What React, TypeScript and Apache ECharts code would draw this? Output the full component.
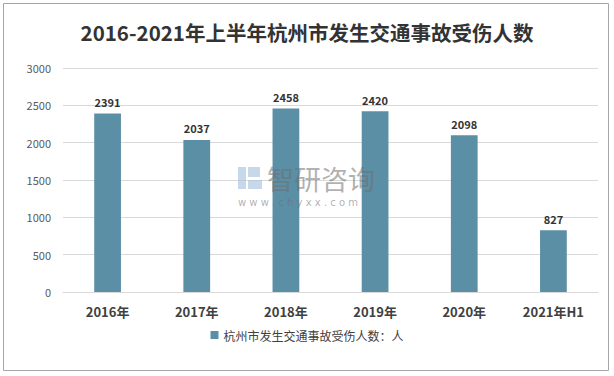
import React, { useEffect, useRef } from "react";
import * as echarts from "echarts";

const categories = ["2016年", "2017年", "2018年", "2019年", "2020年", "2021年H1"];
const injured = [2391, 2037, 2458, 2420, 2098, 827];
const seriesName = "杭州市发生交通事故受伤人数：人";
const titleText = "2016-2021年上半年杭州市发生交通事故受伤人数";

export default function App() {
  const ref = useRef<HTMLDivElement>(null);
  useEffect(() => {
    document.body.style.margin = "0";
    const chart = echarts.init(ref.current!, undefined, { renderer: "svg" });
    const font = "'Noto Sans CJK SC', 'Noto Sans', sans-serif";
    const wm = "rgba(110,110,110,0.55)";
    const logo = "rgba(170,195,225,0.65)";
    chart.setOption({
      animation: false,
      backgroundColor: "#ffffff",
      textStyle: { fontFamily: font },
      title: {
        text: titleText,
        left: "center",
        top: 17,
        textStyle: { fontSize: 20.5, fontWeight: "bold", color: "#333333", fontFamily: font },
      },
      grid: { left: 63, right: 16, top: 68, bottom: 84 },
      legend: {
        bottom: 30,
        left: "center",
        itemWidth: 8,
        itemHeight: 8,
        icon: "rect",
        itemGap: 4,
        textStyle: { fontSize: 12, color: "#404040", fontFamily: font },
        data: [seriesName],
      },
      xAxis: {
        type: "category",
        data: categories,
        axisLine: { lineStyle: { color: "#d9d9d9" } },
        axisTick: { show: false },
        axisLabel: { fontSize: 13, fontWeight: "bold", color: "#404040", margin: 13 },
      },
      yAxis: {
        type: "value",
        min: 0,
        max: 3000,
        interval: 500,
        axisLine: { show: false },
        axisTick: { show: false },
        axisLabel: { fontSize: 11, color: "#595959", margin: 12, formatter: (v: number) => String(v) },
        splitLine: { lineStyle: { color: "#d9d9d9" } },
      },
      series: [
        {
          name: seriesName,
          type: "bar",
          data: injured,
          barWidth: "30%",
          itemStyle: { color: "#5b8fa6" },
          label: {
            show: true,
            position: "top",
            distance: 6,
            fontSize: 11,
            fontWeight: "bold",
            color: "#333333",
          },
        },
      ],
      graphic: [
        {
          type: "rect",
          shape: { x: 3.5, y: 3.5, width: 605, height: 367 },
          style: { fill: "none", stroke: "#a6a6a6", lineWidth: 1 },
          silent: true,
        },
        { type: "rect", z: 100, silent: true, shape: { x: 238, y: 167, width: 8, height: 22 }, style: { fill: logo } },
        { type: "rect", z: 100, silent: true, shape: { x: 248, y: 167, width: 12, height: 10 }, style: { fill: logo } },
        { type: "rect", z: 100, silent: true, shape: { x: 248, y: 180, width: 14, height: 9 }, style: { fill: logo } },
        {
          type: "text",
          z: 100,
          silent: true,
          x: 267,
          y: 165,
          style: { text: "智研咨询", fontSize: 27, fill: wm, fontFamily: font },
        },
        {
          type: "text",
          z: 100,
          silent: true,
          x: 238,
          y: 197,
          style: { text: "w w w . c h y x x . c o m", fontSize: 10, fill: wm, fontFamily: "DejaVu Sans" },
        },
      ],
    });
    return () => chart.dispose();
  }, []);
  return <div ref={ref} style={{ width: 614, height: 376 }} />;
}
